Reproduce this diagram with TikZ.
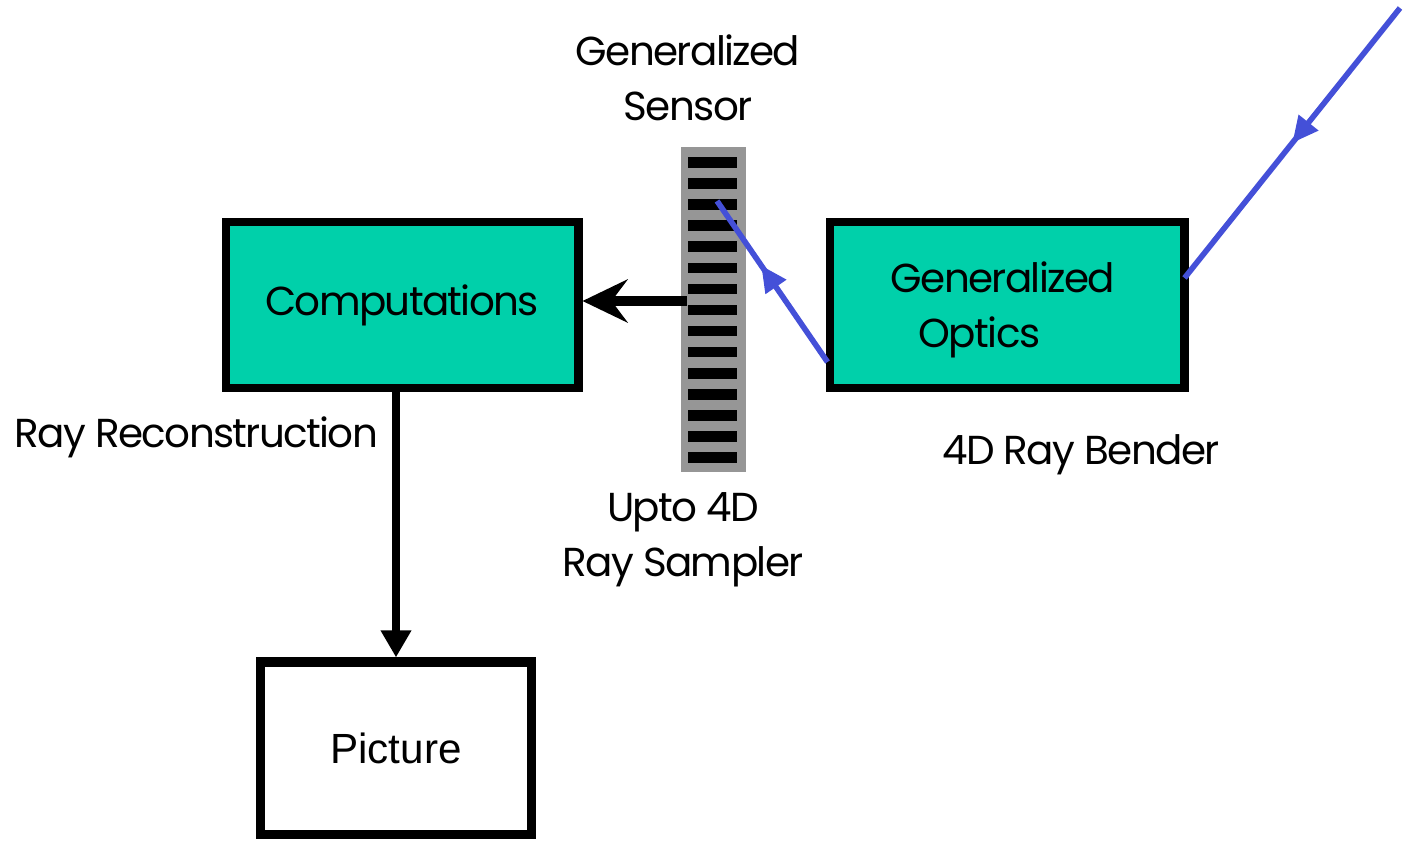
\documentclass[tikz,border=0pt]{standalone}
\usepackage{fontspec}
\setmainfont[LetterSpace=-4]{Poppins}
\newfontfamily\picfont{Liberation Sans}
\usetikzlibrary{arrows.meta, positioning, decorations.markings}

\definecolor{optteal}{RGB}{0,208,170}
\definecolor{rayblue}{RGB}{68,80,216}
\definecolor{sensgray}{RGB}{150,150,150}

\begin{document}
\begin{tikzpicture}[
  x=0.01cm, y=-0.01cm,
  font=\fontsize{11.5}{15.5}\selectfont,
  block/.style={rectangle, draw, line width=2.5pt, fill=optteal, align=center},
  outbox/.style={rectangle, draw, line width=2.6pt, fill=white, font=\picfont\fontsize{12}{14}\selectfont},
  sensorbar/.style={rectangle, fill=sensgray, minimum width=0.65cm, minimum height=3.25cm, inner sep=0pt},
  arr/.style={-{Stealth[length=4.5mm, width=4.3mm, inset=1.6mm]}, line width=2.6pt},
  downarr/.style={-{Triangle[length=2.7mm, width=2.9mm]}, line width=2.4pt},
  ray/.style={rayblue, line width=1.6pt, postaction={decorate},
    decoration={markings, mark=at position #1 with {\arrow{Triangle[length=2.6mm, width=2.4mm]}}}},
  txt/.style={align=center, inner sep=0pt}
]
\useasboundingbox (0,0) rectangle (1407,842);

% boxes
\node[block, minimum width=3.52cm, minimum height=1.66cm] (comp) at (402,305) {Computations};
\node[block, minimum width=3.54cm, minimum height=1.66cm] (optics) at (1007,305) {};
\node[txt, anchor=west, align=left] (opticstext) at (890,310) {Generalized\\\hspace*{0.28cm}Optics};
\node[outbox, minimum width=2.70cm, minimum height=1.72cm] (pic) at (396,748) {Picture};

% sensor with its pixel rows
\node[sensorbar] (sensor) at (713.5,309.5) {};
\foreach \i in {0,...,14}
  \fill (688,{157+21.1*\i}) rectangle ++(49,10.5);

% labels
\node[txt] (senslabel) at (688,78) {Generalized\\Sensor};
\node[txt] (samplabel) at (683,540) {Upto 4D\\Ray Sampler};
\node[txt, anchor=west] (reclabel) at (14,437) {Ray Reconstruction};
\node[txt] (bendlabel) at (1081,455) {4D Ray Bender};

% rays
\coordinate (rayin) at (1400,8);
\coordinate (hit) at (717,201);
\draw[ray=0.5] (rayin) -- ([xshift=-0.04cm, yshift=0.27cm]optics.east);
\draw[ray=0.6] ([xshift=0.02cm, yshift=-0.57cm]optics.west) -- (hit);

% data flow
\draw[arr, shorten <=-0.07cm] ([yshift=0.04cm]sensor.west |- comp.east) -- ([yshift=0.04cm]comp.east);
\draw[downarr] (comp.south -| pic.north) -- (pic.north);
\end{tikzpicture}
\end{document}
